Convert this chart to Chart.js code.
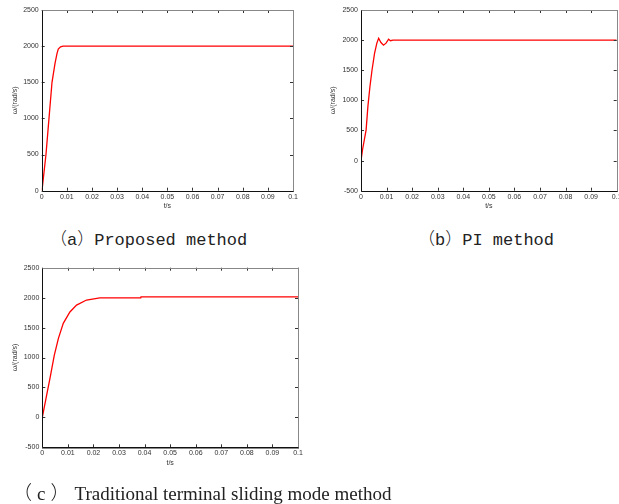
<!DOCTYPE html>
<html>
<head>
<meta charset="utf-8">
<script src="https://cdn.jsdelivr.net/npm/chart.js@4/dist/chart.umd.min.js"></script>
<style>
  html, body { margin: 0; padding: 0; background: #fff; overflow: hidden; }
  body { width: 619px; height: 504px; position: relative; }
  .box { position: absolute; }
  .cap { position: absolute; white-space: nowrap; color: #222; }
  .mono { font-family: "Liberation Mono", monospace; font-size: 17px; }
  .serif { font-family: "Liberation Serif", serif; font-size: 19px; }
  .cjk { font-family: "Noto Sans CJK SC"; font-weight: 300; }
  .wide { display: inline-block; margin: 0 5px; }
</style>
</head>
<body>
<div class="box" id="boxA"><canvas id="chartA"></canvas></div>
<div class="box" id="boxB"><canvas id="chartB"></canvas></div>
<div class="box" id="boxC"><canvas id="chartC"></canvas></div>
<div class="cap mono" style="left:50px; top:225px;"><span class="cjk">（</span>a<span class="cjk">）</span>Proposed method</div>
<div class="cap mono" style="left:418px; top:225px;"><span class="cjk">（</span>b<span class="cjk">）</span>PI method</div>
<div class="cap serif" style="left:8px; top:478px;"><span class="cjk wide">（</span>c<span class="cjk wide">）</span>Traditional terminal sliding mode method</div>
<script>
// time axis values (s) and speed (rad/s)
const tA = [0, 0.0003, 0.0017, 0.0029, 0.0041, 0.0053, 0.0061, 0.0066, 0.0075, 0.0085, 0.1];
const wA = [0, 60, 500, 1000, 1500, 1760, 1900, 1960, 1990, 2000, 2000];

const tB = [0, 0.0006, 0.002, 0.0027, 0.0035, 0.0043, 0.0053, 0.0062, 0.0069, 0.0078, 0.0088, 0.0098, 0.0108, 0.0115, 0.0125, 0.1];
const wB = [0, 180, 510, 900, 1230, 1500, 1780, 1950, 2030, 1960, 1915, 1950, 2015, 1990, 2000, 2000];

const tC = [0, 0.0017, 0.003, 0.0047, 0.0063, 0.0082, 0.0108, 0.0134, 0.0173, 0.0225, 0.0385, 0.0386, 0.1];
const wC = [0, 370, 650, 1040, 1320, 1570, 1760, 1875, 1960, 1995, 1995, 2012, 2012];

const xTicks = [0, 0.01, 0.02, 0.03, 0.04, 0.05, 0.06, 0.07, 0.08, 0.09, 0.1];
const xTickLabels = ['0', '0.01', '0.02', '0.03', '0.04', '0.05', '0.06', '0.07', '0.08', '0.09', '0.1'];
const yTicksA = [0, 500, 1000, 1500, 2000, 2500];
const yTicksBC = [-500, 0, 500, 1000, 1500, 2000, 2500];

const xTitle = 't/s';
const yTitle = 'ω/(rad/s)';

// frame + inward MATLAB-style ticks
const framePlugin = {
  id: 'frame',
  afterDatasetsDraw(chart) {
    const { ctx, chartArea: a, scales } = chart;
    ctx.save();
    ctx.strokeStyle = '#333';
    ctx.lineWidth = 1;
    scales.x.ticks.forEach(t => {
      const px = Math.round(scales.x.getPixelForValue(t.value)) + 0.5;
      ctx.beginPath();
      ctx.moveTo(px, a.bottom); ctx.lineTo(px, a.bottom - 3);
      ctx.moveTo(px, a.top); ctx.lineTo(px, a.top + 3);
      ctx.stroke();
    });
    scales.y.ticks.forEach(t => {
      const py = Math.round(scales.y.getPixelForValue(t.value)) + 0.5;
      ctx.beginPath();
      ctx.moveTo(a.left, py); ctx.lineTo(a.left + 3, py);
      ctx.moveTo(a.right, py); ctx.lineTo(a.right - 3, py);
      ctx.stroke();
    });
    ctx.strokeStyle = '#888';
    ctx.strokeRect(Math.round(a.left) + 0.5, Math.round(a.top) + 0.5,
                   Math.round(a.right - a.left), Math.round(a.bottom - a.top));
    ctx.strokeStyle = '#111';
    ctx.beginPath();
    ctx.moveTo(Math.round(a.left) + 0.5, Math.round(a.top) + 0.5);
    ctx.lineTo(Math.round(a.left) + 0.5, Math.round(a.bottom) + 0.5);
    ctx.lineTo(Math.round(a.right) + 0.5, Math.round(a.bottom) + 0.5);
    ctx.stroke();
    ctx.restore();
  }
};

function makeChart(id, boxId, t, w, yMin, yTicks, lay) {
  const box = document.getElementById(boxId);
  box.style.left = lay.left + 'px';
  box.style.top = lay.top + 'px';
  box.style.width = lay.width + 'px';
  box.style.height = lay.height + 'px';

  const font = { family: 'Liberation Sans, Arial, sans-serif', size: 7 };

  return new Chart(document.getElementById(id), {
    type: 'line',
    data: {
      datasets: [{
        data: t.map((x, i) => ({ x: x, y: w[i] })),
        borderColor: '#ff0000',
        borderWidth: 1.3,
        pointRadius: 0,
        fill: false,
        tension: 0
      }]
    },
    options: {
      responsive: true,
      maintainAspectRatio: false,
      animation: false,
      layout: { padding: lay.padding },
      plugins: { legend: { display: false }, tooltip: { enabled: false } },
      scales: {
        x: {
          type: 'linear',
          min: 0,
          max: 0.1,
          afterBuildTicks: s => { s.ticks = xTicks.map(v => ({ value: v })); },
          afterFit: s => { s.height = lay.xHeight; },
          ticks: {
            color: '#333',
            font: font,
            padding: 2,
            maxRotation: 0,
            autoSkip: false,
            callback: (v, i) => xTickLabels[i]
          },
          grid: { display: false, drawTicks: false },
          border: { display: false },
          title: { display: true, text: xTitle, color: '#333', font: font, padding: { top: 2, bottom: 0 } }
        },
        y: {
          min: yMin,
          max: 2500,
          afterBuildTicks: s => { s.ticks = yTicks.map(v => ({ value: v })); },
          afterFit: s => { s.width = lay.yWidth; },
          ticks: { color: '#333', font: font, padding: 3, autoSkip: false, callback: v => String(v) },
          grid: { display: false, drawTicks: false },
          border: { display: false },
          title: { display: true, text: yTitle, color: '#333', font: font, padding: { top: 0, bottom: 0 } }
        }
      }
    },
    plugins: [framePlugin]
  });
}

// chart area targets: a (41.7,10)-(293,190.7); b (361,10)-(616.7,190.7); c (42.3,267.7)-(298,447.3)
makeChart('chartA', 'boxA', tA, wA, 0, yTicksA, {
  left: 0, top: 0, width: 308, height: 215,
  padding: { left: 11, top: 10, right: 15, bottom: 4.3 },
  yWidth: 30.7, xHeight: 20
});
makeChart('chartB', 'boxB', tB, wB, -500, yTicksBC, {
  left: 310, top: 0, width: 322, height: 215,
  padding: { left: 19, top: 10, right: 15.3, bottom: 4.3 },
  yWidth: 32, xHeight: 20
});
makeChart('chartC', 'boxC', tC, wC, -500, yTicksBC, {
  left: 0, top: 255, width: 313, height: 225,
  padding: { left: 11, top: 12.7, right: 15, bottom: 12.7 },
  yWidth: 31.3, xHeight: 20
});
</script>
</body>
</html>
